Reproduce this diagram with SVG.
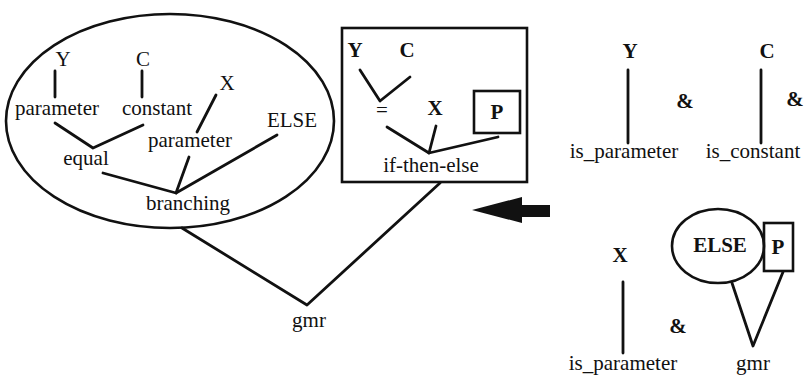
<svg xmlns="http://www.w3.org/2000/svg" width="804" height="377" viewBox="0 0 804 377">
<style>
text{font-family:"Liberation Serif","Times New Roman",serif;font-size:21px;fill:#111;text-anchor:middle}
.b{font-weight:bold}
.s{fill:none;stroke:#111;stroke-width:2.6;stroke-linecap:round}
line,polyline{fill:none;stroke:#111;stroke-width:2.8;stroke-linecap:round;stroke-linejoin:round}
</style>
<rect width="804" height="377" fill="#fff"/>
<g id="tree-ellipse">
<ellipse class="s" cx="170" cy="121" rx="164" ry="107"/>
<text x="63" y="66">Y</text>
<text x="143" y="66">C</text>
<text x="57" y="115">parameter</text>
<text x="157" y="115">constant</text>
<text x="227" y="90">X</text>
<text x="292" y="127">ELSE</text>
<text x="190" y="147">parameter</text>
<text x="86" y="165">equal</text>
<text x="188" y="210">branching</text>
</g>
<g id="pattern-box">
<rect class="s" x="342" y="28" width="185" height="154"/>
<text class="b" x="355" y="57">Y</text>
<text class="b" x="407" y="57">C</text>
<text x="382" y="117">=</text>
<text class="b" x="435" y="115">X</text>
<rect class="s" x="474" y="91" width="46" height="42"/>
<text class="b" x="497" y="119">P</text>
<text x="431" y="172">if-then-else</text>
</g>
<g id="gmr">
<text x="309" y="327">gmr</text>
</g>
<g id="arrow">
<polygon points="472,210 522,197 522,205 550,205 550,217 522,217 522,223" fill="#111"/>
</g>
<g id="rule-y">
<text class="b" x="630" y="58">Y</text>
<text x="624" y="158">is_parameter</text>
</g>
<g id="rule-c">
<text class="b" x="767" y="58">C</text>
<text x="753" y="158">is_constant</text>
</g>
<g id="amp-1"><text class="b" x="685" y="108">&amp;</text></g>
<g id="amp-2"><text class="b" x="795" y="106">&amp;</text></g>
<g id="rule-x">
<text class="b" x="620" y="262">X</text>
<text x="623" y="370">is_parameter</text>
</g>
<g id="amp-3"><text class="b" x="678" y="333">&amp;</text></g>
<g id="rule-gmr">
<ellipse class="s" cx="718" cy="246" rx="46" ry="37"/>
<text class="b" x="720" y="252">ELSE</text>
<rect class="s" x="764" y="223" width="29" height="48"/>
<text class="b" x="778" y="254">P</text>
<text x="753" y="370">gmr</text>
</g>
<g id="connectors">
<line x1="55" y1="71" x2="55" y2="97"/>
<line x1="142" y1="71" x2="142" y2="97"/>
<polyline points="55,123 93,148 143,125"/>
<line x1="216" y1="95" x2="197" y2="132"/>
<polyline points="103,173 176,193 277,135"/>
<line x1="189" y1="157" x2="176" y2="193"/>
<polyline points="182,228 307,305 440,183"/>
<polyline points="360,70 380,101 410,77"/>
<polyline points="387,127 429,153 498,137"/>
<line x1="436" y1="126" x2="429" y2="153"/>
<line x1="628" y1="70" x2="628" y2="143"/>
<line x1="761" y1="70" x2="761" y2="143"/>
<line x1="623" y1="282" x2="623" y2="353"/>
<polyline points="732,283 753,346 783,272"/>
</g>
</svg>
